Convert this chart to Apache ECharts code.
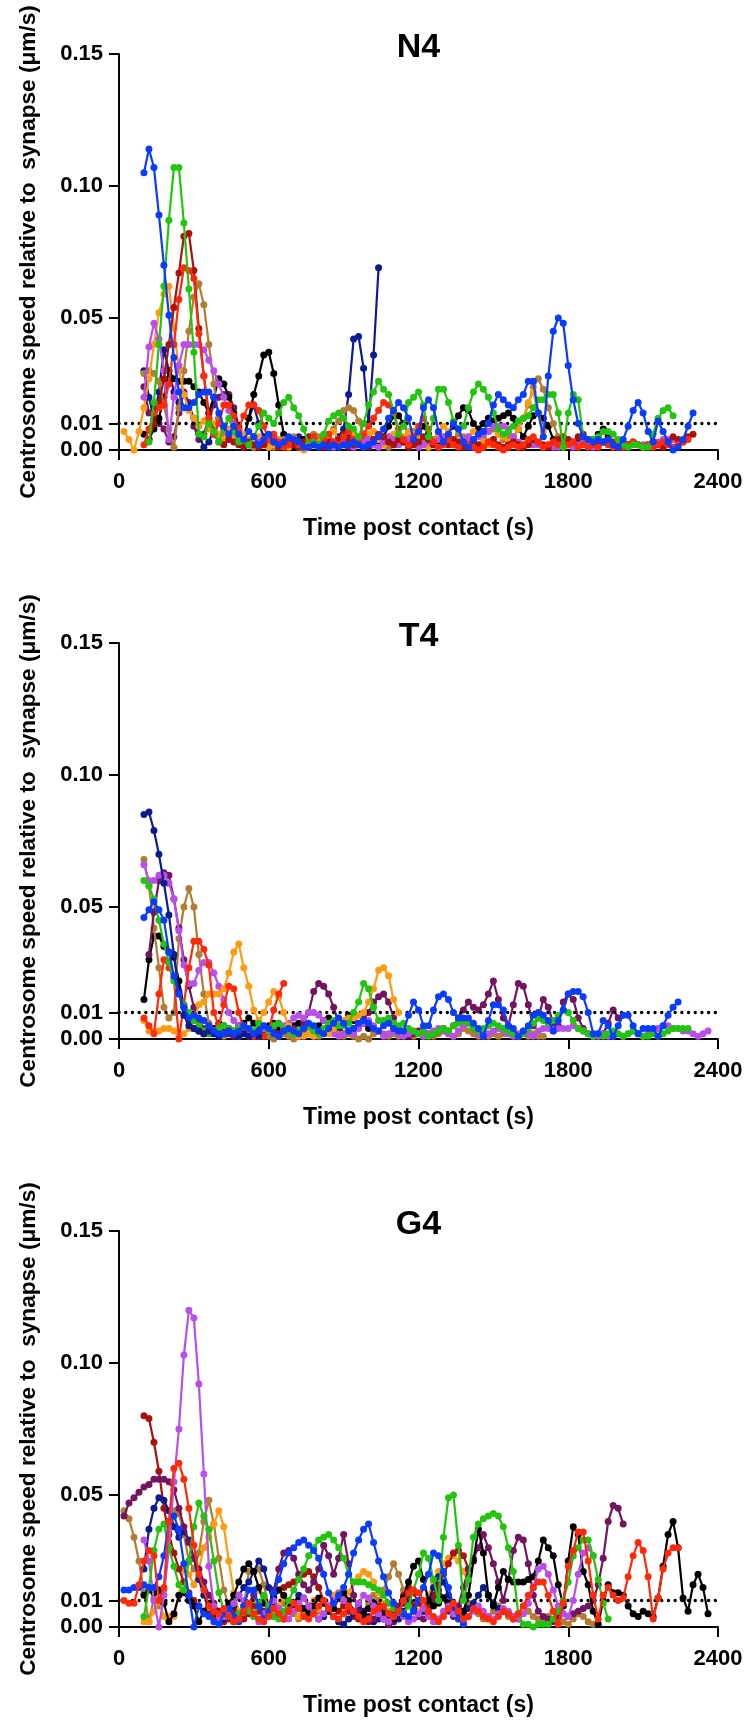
<!DOCTYPE html>
<html><head><meta charset="utf-8">
<script src="https://cdn.jsdelivr.net/npm/echarts@6/dist/echarts.min.js"></script>
<style>html,body{margin:0;padding:0;background:#fff;}#c{width:745px;height:1727px;}</style>
</head><body><div id="c"></div>
<script>
// ---- data (speed values in 0.001 um/s, sampled every 20 s from the start time) ----
const STEP = 20;
const panelTitles = ['N4', 'T4', 'G4'];
const yTickValues = [0, 0.01, 0.05, 0.10, 0.15];
const threshold = 0.01;
const xTitle = 'Time post contact (s)';
const yTitle = 'Centrosome speed relative to  synapse (\u03bcm/s)';

// N4
const n4DarkPurpleStart = 100;
const n4DarkPurple = [24,14,16,10,8,3,5,14,22,18,9,4,6,12,17,20,21,21,16,9,
 4,2,1,2,3,1,2,3,2,1,2,3,2,1,2,3,2,1,2,3,
 2,1,2,3,2,1,2,3,2,1,2];
const n4NavyStart = 100;
const n4Navy = [30,20,12,22,38,30,22,18,21,17,12,6,1,3,8,12,8,6,9,7,
 5,12,17,10,5,3,2,4,3,2,3,5,4,2,3,4,2,1,3,5,
 8,21,42,43,31,10,36,69];
const n4BlackStart = 100;
const n4Black = [6,4,8,12,20,30,27,26,26,26,24,22,18,14,20,27,25,20,14,8,
 4,12,21,28,36,37,29,17,6,2,1,2,4,3,2,4,5,3,2,4,
 6,5,3,2,4,6,4,3,5,9,13,13,10,6,4,7,9,6,3,2,
 4,6,9,13,16,15,10,8,10,12,11,12,13,14,12,8,5,9,13,14,
 12,9,4,3,4,3,2,3,4,3,4,6,8,5];
const n4BrownStart = 100;
const n4Brown = [29,30,29,26,17,8,1,16,30,45,58,63,55,40,25,12,6,4,7,5,
 3,2,1,2,4,3,1,2,4,3,5,3,2,4,6,5,3,5,8,11,
 15,16,15,11,6,3,2,4,3,1,2,4,3,5,7,5,3,2,4,6,
 5,3,4,6,5,3,4,6,5,7,8,6,4,5,5,8,12,17,24,27,
 23,16,10,5,3];
const n4OrangeStart = 20;
const n4Orange = [7,4,0,7,16,27,40,52,59,62,46,31,21,15,12,9,11,8,10,6,
 4,8,5,3,6,4,2,5,3,1,2,4,2,1,3,1,0,2,4,3,
 2,5,7,4,2,4,6,5,3,6,7,4,2,5,6,3,5,7,6,4,
 2,1,3,6,9,7,4,2,3,5,7,5,3,2,4,6,5,3,4,8,
 12,18,22,14,7];
const n4LightPurpleStart = 100;
const n4LightPurple = [20,39,48,42,30,4,20,32,40,40,40,40,38,34,30,25,20,15,10,6,
 4,3,5,3,2,4,5,3,2,3,4,2,1,3,4,2,3,2,1,3,
 4,2,1,2,3,4,2,1,3,5,4,2,3,4,2,1,2,3,2,4,
 5,3,2,3,4,5,4,5,6,7,9,9,9,8,5,3,2,3,2,2,
 1,2,1,1,2,2,1,2,3,2,1,2,3,3,2,1,2,2,3,2,
 2,2,3,3,4,4,4];
const n4DarkRedStart = 120;
const n4DarkRed = [4,10,18,27,40,54,67,81,82,68,46,28,14,6,3,2,4,3,2,1,
 3,2,1,2,4,3,1,2,3,2,1,3,5,4,2,1,3,2,4,6,
 4,2,3,1,2,4,6,5,3,2,4,3,1,2,3,5,4,2,1,3,
 2,4,3,1,2,3,2,1,3,4,2,1,2,3,2,1,2,4,3,2,
 1,3,4,5,4,3,5,6,4,3,2,3,4,3,2,1,2,3,2,1,
 2,3,2,1,3,5,4,3,5,6];
const n4RedStart = 100;
const n4Red = [2,8,14,16,17,25,40,57,69,68,65,44,28,12,6,10,17,17,13,8,
 13,17,17,15,9,4,6,3,1,2,4,2,1,3,5,2,4,6,3,2,
 5,7,4,3,6,9,12,15,18,17,14,8,4,2,5,9,12,8,3,1,
 2,4,2,1,3,2,1,0,1,3,2,1,0,1,2,1,2,4,5,3,
 1,2,3,2,1,2,3,1,2,1,2,1,3,2,1,2,1,2,3,2,
 1,2,1,2,3,2,1,2,3,4];
const n4GreenStart = 120;
const n4Green = [3,18,40,62,87,107,107,86,61,37,6,5,10,7,3,9,12,7,3,4,
 2,5,9,14,12,10,14,18,20,16,13,8,2,3,2,6,11,13,14,12,
 9,8,5,10,17,22,26,23,21,15,6,9,18,20,22,17,5,12,23,23,
 18,11,8,9,16,22,25,23,20,14,8,6,7,9,11,12,13,16,19,19,
 21,21,14,1,14,21,19,5,4,4,5,7,7,6,4,2,1,2,2,1,
 1,6,12,15,16,13];
const n4BlueStart = 100;
const n4Blue = [105,114,107,89,70,51,35,22,16,16,18,21,22,22,20,14,9,6,9,6,
 4,7,5,2,4,6,3,2,3,5,4,3,1,1,2,1,2,1,2,1,
 2,2,3,2,1,2,3,5,8,12,15,18,16,12,4,7,16,19,16,7,
 3,6,10,8,3,1,4,6,7,10,17,21,19,17,16,19,21,26,26,14,
 5,28,45,50,48,32,19,10,5,4,3,4,3,4,2,1,4,9,15,18,
 14,7,3,11,7,3,0,1,4,9,14];

// T4
const t4BlackStart = 100;
const t4Black = [15,30,39,39,35,33,31,22,12,7,4,3,2,3,4,6,5,4,3,5,
 6,8,6,4,3,5,6,4,2,3,5,6,4,2,3,5,7,8,6,4,
 6,9,7,5,6,4];
const t4BrownStart = 100;
const t4Brown = [68,58,42,27,12,8,10,38,50,57,50,32,17,6,3,2,1,2,3,1,
 2,4,3,1,2,1,0,1,2,1,0,1,2,3,2,1,2,4,3,2,
 1,2,1,0,1,0,2,3,2,1,2,1,2,3,1,2,1,2,1,2,
 3,2,1,2,4,3,2,1,2,1,2,1,2,3,2,1,2,1,2,1,
 1];
const t4DarkPurpleStart = 120;
const t4DarkPurple = [32,48,60,63,62,53,42,30,20,12,7,4,3,2,4,3,2,1,2,3,
 2,1,2,3,4,3,2,4,5,4,3,6,10,18,21,20,17,12,6,2,
 3,4,6,8,10,14,16,17,14,8,4,2,1,2,3,2,1,2,3,4,
 3,5,8,11,14,12,11,13,17,22,15,8,5,13,21,20,13,5,8,15,
 12,6,5,14,17,15,8,4,2,1,1,2,6,11,8];
const t4LightPurpleStart = 100;
const t4LightPurple = [66,60,60,62,62,59,53,41,28,21,21,26,29,29,25,20,15,10,7,5,
 4,3,2,3,4,3,5,6,5,6,8,9,8,10,10,9,7,4,2,1,
 2,3,2,4,6,7,5,3,1,2,3,2,1,2,3,2,1,2,3,4,
 3,2,1,3,5,6,4,2,1,2,3,4,3,2,1,2,3,2,1,3,
 4,4,3,4,4,4,5,4,3,2,1,1,2,1,1,2,1,2,3,2,
 1,2,3,4,5,5,4,4,3,3,2,1,2,3];
const t4OrangeStart = 100;
const t4Orange = [7,3,3,3,4,4,3,1,2,4,7,13,14,17,17,17,19,25,33,36,
 27,20,11,7,10,14,18,16,10,5,3,1,1,2,1,2,3,2,4,6,
 7,8,8,9,10,14,19,26,27,24,15,10];
const t4RedStart = 100;
const t4Red = [8,5,2,17,30,27,23,0,13,27,37,37,34,28,10,5,13,20,19,10,
 4,1,1,1,1,3,11,17,21];
const t4GreenStart = 100;
const t4Green = [60,58,53,45,36,29,22,17,13,10,7,5,3,2,3,4,5,4,3,4,
 5,4,3,6,5,3,5,6,4,3,2,3,4,5,3,2,4,6,7,5,
 5,6,10,14,21,19,12,7,7,8,6,5,6,4,3,2,3,1,2,3,
 4,3,5,6,7,6,4,3,4,5,6,5,4,3,2,1,2,4,6,8,
 7,6,7,9,11,10,7,4,3,2,1,2,1,2,3,2,1,2,3,2,
 1,1,2,1,2,3,4,4,4,4];
const t4NavyStart = 100;
const t4Navy = [85,86,79,70,59,47,32,18,9,5,4,3,2,3,2,1,2,3,2,1,2,1,2,1];
const t4BlueStart = 100;
const t4Blue = [46,49,52,49,45,33,24,17,12,8,9,8,7,5,3,2,2,3,2,3,
 5,4,2,3,5,4,2,1,3,4,3,2,4,6,5,3,2,4,6,8,
 6,3,4,6,7,6,4,3,5,6,4,3,3,9,14,11,5,5,11,16,
 17,15,10,8,8,8,6,4,1,7,13,13,11,5,4,1,3,5,9,10,
 9,7,3,7,11,17,18,18,16,10,2,2,7,5,1,5,9,9,5,2,
 4,4,4,1,5,9,12,14];

// G4
const g4BrownStart = 20;
const g4Brown = [44,41,34,25,13,2,11,8,14,32,44,43,35,25,22,28,40,48,39,26,
 14,8,5,3,8,21,21,22,16,8,4,6,9,7,5,3,4,6,8,6,
 4,7,10,13,11,8,5,4,6,9,12,10,14,19,24,20,14,10,6,4,
 6,9,12,14,11,8,6,4,6,9,7,5,3,4,6,8,6,4,3,5,
 8,6,4,3,2,4,6,4,2,1,3,5,4,2,1];
const g4OrangeStart = 100;
const g4Orange = [2,2,6,10,4,4,4,12,23,20,16,22,30,34,39,44,38,25,13,6,
 4,7,11,14,10,6,5,8,11,9,6,4,6,8,10,7,5,8,12,11,
 9,13,17,19,21,20,17,13,9,6,4,7,10,12,9,6,8,12,17,21,
 24,26,27,25,21,17];
const g4DarkRedStart = 100;
const g4DarkRed = [80,79,70,59,45,35,28,22,17,13,10,8,6,5,4,3,2,4,6,4,
 3,5,8,6,4,7,11,14,15,16,17,18,20,21,19,15,10,6,4,6,
 8,6,4,3,5,7,9,8,6,4,5,8,12,15,13,9,6,8,12,16,
 20,24,28,29,27,22];
const g4NavyStart = 100;
const g4Navy = [22,37,45,49,48,44,38,34,36,33,26,18,12,8,6,4,3,5,8,12,
 15,17,21,25,22,15,9,5,3,6,9,12,11,8,5,3,4,6,4,2,
 1,3,5,8,6,4,2,3,5,4,2,3,6,9,7,4,6,10,15,19,
 17,12,8,6,5,7,9,12,15,12,9,7,6,5,4,3];
const g4DarkPurpleStart = 20;
const g4DarkPurple = [42,47,49,51,53,54,56,56,56,55,52,45,38,32,26,22,17,12,9,
 6,4,3,2,4,6,9,12,9,6,8,14,22,28,29,26,20,16,14,17,
 22,31,27,20,26,35,24,12,6,4,2,3,5,3,1,2,6,9,12,8,
 4,3,5,9,14,11,6,4,8,15,22,26,30,35,30,24,17,10,18,29,
 34,33,24,12,6,4,3,2,4,5,4,5,6,7,8,10,16,26,40,46,
 45,39];
const g4BlackStart = 100;
const g4Black = [12,14,13,14,9,2,5,12,13,10,8,2,6,9,7,4,6,9,12,17,
 22,24,21,15,9,6,11,14,12,9,8,10,7,5,8,11,9,6,7,11,
 13,10,6,4,5,7,9,6,4,5,3,6,11,17,23,25,18,10,8,9,
 11,9,6,4,6,
 12,25,37,28,12,8,15,21,18,17,17,17,18,19,25,33,30,27,16,8,
 25,38,35,21,16,6,1,10,16,13,13,12,8,5,4,6,5,4,11,23,
 35,40,30,11,6,16,20,15,5];
const g4LightPurpleStart = 100;
const g4LightPurple = [33,25,10,0,12,30,55,75,103,120,117,92,58,23,8,3,4,6,9,12,
 10,7,4,2,5,8,10,7,4,3,6,9,11,8,5,3,5,8,10,12,
 10,8,6,9,12,11,8,5,3,2,4,6,4,2,3,5,7,4,2,3,
 6,8,5,3,2,4,6,8,6,4,3,5,7,6,4,3,5,9,15,22,
 23,20,14,8,5,4,10,20,28,30,27];
const g4GreenStart = 100;
const g4Green = [4,15,29,37,39,30,23,16,14,25,38,47,42,37,25,13,6,4,2,5,
 8,6,4,9,12,7,4,3,6,10,14,18,22,27,30,33,34,35,33,30,
 26,20,17,17,17,16,15,14,12,9,7,6,5,8,14,20,28,26,18,10,
 34,49,50,31,10,18,34,39,41,42,43,42,38,30,21,
 5,1,1,0,1,1,1,3,6,10,17,27,30,33,33,27,18,9,3];
const g4BlueStart = 20;
const g4Blue = [14,14,15,15,16,15,15,19,27,40,42,37,24,12,0,8,5,4,2,
 1,5,7,4,2,8,14,14,8,3,6,13,18,24,28,30,32,33,31,29,
 26,20,13,9,12,15,20,28,33,37,39,32,25,19,13,9,6,5,4,6,
 10,15,20,28,27,21,15,8,3,1];
const g4RedStart = 20;
const g4Red = [10,9,9,16,25,29,27,10,15,40,60,62,56,45,31,20,14,8,6,
 5,7,4,2,3,6,9,5,3,2,4,7,5,3,6,9,7,4,3,5,
 8,10,7,4,3,5,8,6,4,2,3,6,7,8,5,4,6,10,13,14,
 13,10,6,4,2,4,7,9,6,3,4,7,6,4,3,2,4,6,5,3,
 5,8,12,15,17,17,12,6,1,9,23,29,36,36,25,12,3,12,15,12,
 10,11,19,27,32,29,19,3,11,22,28,30,30];

// colours
const C = {
  blue: '#0a3cff', green: '#22c40e', darkred: '#a8120c', red: '#ff2a0a',
  orange: '#ff9b12', brown: '#b07d33', lightpurple: '#b94ee8',
  darkpurple: '#72145f', navy: '#0b1c8e', black: '#000000'
};

// series per panel, listed bottom -> top drawing order
const panels = [
  [['darkpurple', n4DarkPurpleStart, n4DarkPurple], ['navy', n4NavyStart, n4Navy],
   ['black', n4BlackStart, n4Black], ['brown', n4BrownStart, n4Brown],
   ['orange', n4OrangeStart, n4Orange], ['lightpurple', n4LightPurpleStart, n4LightPurple],
   ['darkred', n4DarkRedStart, n4DarkRed], ['red', n4RedStart, n4Red],
   ['green', n4GreenStart, n4Green], ['blue', n4BlueStart, n4Blue]],
  [['black', t4BlackStart, t4Black], ['brown', t4BrownStart, t4Brown],
   ['darkpurple', t4DarkPurpleStart, t4DarkPurple], ['lightpurple', t4LightPurpleStart, t4LightPurple],
   ['orange', t4OrangeStart, t4Orange], ['red', t4RedStart, t4Red],
   ['green', t4GreenStart, t4Green], ['navy', t4NavyStart, t4Navy],
   ['blue', t4BlueStart, t4Blue]],
  [['brown', g4BrownStart, g4Brown], ['orange', g4OrangeStart, g4Orange],
   ['darkred', g4DarkRedStart, g4DarkRed], ['navy', g4NavyStart, g4Navy],
   ['darkpurple', g4DarkPurpleStart, g4DarkPurple], ['black', g4BlackStart, g4Black],
   ['lightpurple', g4LightPurpleStart, g4LightPurple], ['green', g4GreenStart, g4Green],
   ['blue', g4BlueStart, g4Blue], ['red', g4RedStart, g4Red]]
];

// ---- layout ----
const FONT = '"Liberation Sans", Arial, Helvetica, sans-serif';
const gridTops = [54, 643, 1231];
const GRID_LEFT = 119, GRID_W = 599, GRID_H = 396;

const chart = echarts.init(document.getElementById('c'), null, {renderer: 'canvas'});
const grids = [], xAxes = [], yAxes = [], series = [], graphics = [];

panels.forEach((list, p) => {
  grids.push({left: GRID_LEFT, top: gridTops[p], width: GRID_W, height: GRID_H,
              containLabel: false, outerBoundsMode: 'none'});
  xAxes.push({
    type: 'value', gridIndex: p, min: 0, max: 2400, interval: 600,
    axisLine: {show: true, onZero: false, lineStyle: {color: '#000', width: 2}},
    axisTick: {show: true, length: 10, lineStyle: {color: '#000', width: 2}},
    axisLabel: {color: '#000', fontSize: 22, fontWeight: 'bold', fontFamily: FONT, margin: 21,
                formatter: v => String(v)},
    splitLine: {show: false},
    name: xTitle, nameLocation: 'middle', nameGap: 67,
    nameTextStyle: {color: '#000', fontSize: 23, fontWeight: 'bold', fontFamily: FONT}
  });
  yAxes.push({
    type: 'value', gridIndex: p, min: 0, max: 0.15,
    axisLine: {show: true, onZero: false, lineStyle: {color: '#000', width: 2}},
    axisTick: {show: true, length: 10, customValues: yTickValues, lineStyle: {color: '#000', width: 2}},
    axisLabel: {color: '#000', fontSize: 22, fontWeight: 'bold', fontFamily: FONT, margin: 16,
                customValues: yTickValues, hideOverlap: false, formatter: v => v.toFixed(2)},
    splitLine: {show: false},
    name: yTitle, nameLocation: 'middle', nameRotate: 90, nameGap: 79,
    nameTextStyle: {color: '#000', fontSize: 22.6, fontWeight: 'bold', fontFamily: FONT}
  });
  graphics.push({
    type: 'text', x: GRID_LEFT + GRID_W / 2, y: gridTops[p] - 6,
    style: {text: panelTitles[p], font: 'bold 34px ' + FONT, fill: '#000',
            align: 'center', verticalAlign: 'middle', textAlign: 'center', textVerticalAlign: 'middle'}
  });
  // threshold dotted line
  series.push({
    type: 'line', xAxisIndex: p, yAxisIndex: p, data: [], silent: true, z: 1,
    markLine: {
      silent: true, symbol: ['none', 'none'], animation: false,
      label: {show: false},
      lineStyle: {color: '#000', width: 3.3, type: [0.1, 6.6], cap: 'round'},
      data: [[{coord: [0, threshold]}, {coord: [2400, threshold]}]]
    }
  });
  list.forEach(([col, start, vals], k) => {
    series.push({
      type: 'line', xAxisIndex: p, yAxisIndex: p, z: 2 + k,
      data: vals.map((v, i) => [start + i * STEP, v / 1000]),
      symbol: 'circle', symbolSize: 7, showSymbol: true,
      lineStyle: {color: C[col], width: 2.2},
      itemStyle: {color: C[col]},
      emphasis: {disabled: true}, animation: false
    });
  });
});

chart.setOption({
  animation: false,
  backgroundColor: '#fff',
  grid: grids, xAxis: xAxes, yAxis: yAxes, series: series,
  graphic: graphics
});
</script></body></html>
